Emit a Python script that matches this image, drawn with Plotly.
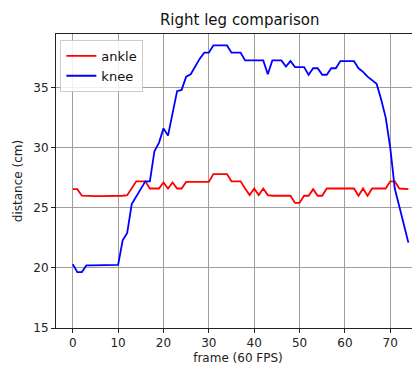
import plotly.graph_objects as go

frames = list(range(75))

ankle = [26.55, 26.55, 26.0, 25.97, 25.97, 25.97, 25.97, 25.97, 25.97, 25.97,
         25.98, 26.0, 26.05, 26.6, 27.2, 27.2, 27.2, 26.6, 26.6, 26.6,
         27.1, 26.6, 27.1, 26.6, 26.6, 27.15, 27.15, 27.15, 27.15, 27.15,
         27.15, 27.8, 27.8, 27.8, 27.8, 27.2, 27.2, 27.2, 26.6, 26.05,
         26.6, 26.05, 26.6, 26.05, 26.0, 26.0, 26.0, 26.0, 26.0, 25.4,
         25.4, 26.0, 26.0, 26.55, 26.0, 26.0, 26.6, 26.6, 26.6, 26.6,
         26.6, 26.6, 26.6, 26.0, 26.6, 26.0, 26.6, 26.6, 26.6, 26.6,
         27.2, 27.2, 26.6, 26.55, 26.55]

knee = [20.3, 19.65, 19.65, 20.2, 20.2, 20.2, 20.2, 20.2, 20.2, 20.2,
        20.25, 22.3, 22.9, 25.3, 25.9, 26.6, 27.2, 27.2, 29.7, 30.4,
        31.6, 31.0, 32.9, 34.7, 34.8, 35.9, 36.1, 36.8, 37.4, 37.9,
        37.9, 38.5, 38.5, 38.5, 38.5, 37.9, 37.9, 37.9, 37.25, 37.25,
        37.25, 37.25, 37.25, 36.1, 37.25, 37.25, 37.25, 36.75, 37.2, 36.7,
        36.7, 36.7, 36.06, 36.6, 36.6, 36.06, 36.06, 36.6, 36.6, 37.2,
        37.2, 37.2, 37.2, 36.6, 36.3, 35.9, 35.6, 35.3, 34.0, 32.5,
        30.0, 26.6, 25.1, 23.6, 22.1]

x_ticks = [0, 10, 20, 30, 40, 50, 60, 70]
y_ticks = [15, 20, 25, 30, 35]

FONT = "DejaVu Sans"

fig = go.Figure()
fig.add_trace(go.Scatter(x=frames, y=ankle, mode="lines", name="ankle",
                         line=dict(color="#ff0000", width=1.8)))
fig.add_trace(go.Scatter(x=frames, y=knee, mode="lines", name="knee",
                         line=dict(color="#0000ff", width=1.8)))

fig.update_layout(
    width=412, height=359,
    margin=dict(l=48, r=0, t=26, b=39, autoexpand=False),
    paper_bgcolor="white", plot_bgcolor="white",
    font=dict(family=FONT, size=12, color="#222222"),
    title=dict(text="Right leg comparison", x=0.5624, xanchor="center",
               y=1 - 12 / 359, yanchor="middle",
               font=dict(family=FONT, size=15, color="#111111")),
    legend=dict(x=0.012, y=0.98, xanchor="left", yanchor="top",
                bgcolor="rgba(255,255,255,0.85)", bordercolor="#cccccc",
                borderwidth=1, font=dict(family=FONT, size=13, color="#111111"),
                itemwidth=30, tracegroupgap=0),
    xaxis=dict(range=[-3.7, 76.56], tickvals=x_ticks, ticks="outside",
               ticklen=4, tickcolor="#222222", showline=True, linecolor="#222222",
               linewidth=1, mirror=True, showgrid=True, gridcolor="#9e9e9e",
               gridwidth=1.2, zeroline=False, automargin=False,
               title=dict(text="frame (60 FPS)", standoff=4,
                          font=dict(family=FONT, size=12))),
    yaxis=dict(range=[15, 39.45], tickvals=y_ticks, ticks="outside",
               ticklen=4, tickcolor="#222222", showline=True, linecolor="#222222",
               linewidth=1, showgrid=True, gridcolor="#9e9e9e", gridwidth=1.2,
               zeroline=False, automargin=False,
               title=dict(text="distance (cm)", standoff=8,
                          font=dict(family=FONT, size=12))),
)

fig.write_html("out.html")
